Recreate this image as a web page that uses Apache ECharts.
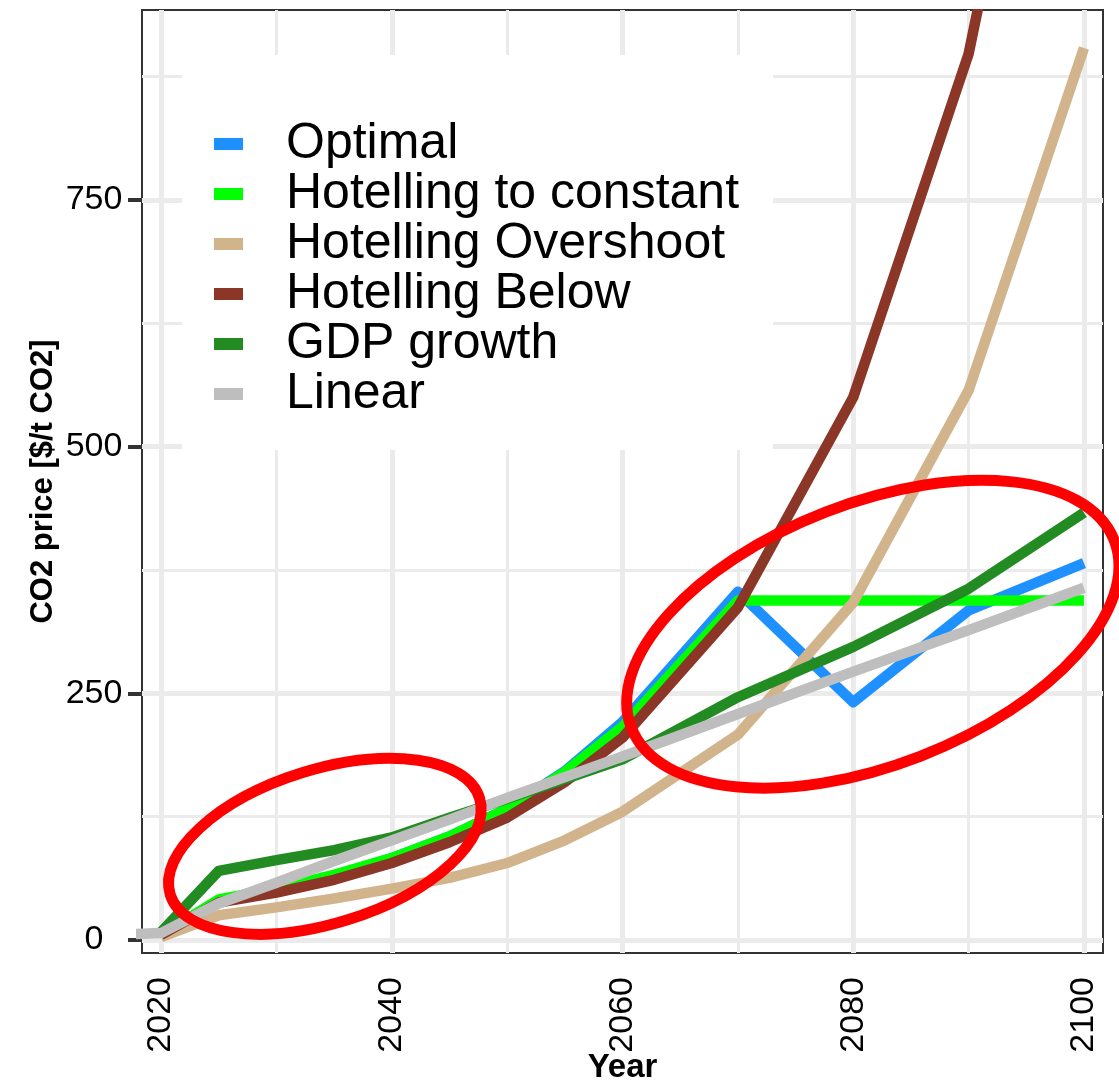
<!DOCTYPE html>
<html>
<head>
<meta charset="utf-8">
<script src="https://cdn.jsdelivr.net/npm/echarts@6/dist/echarts.min.js"></script>
<style>
  html, body { margin: 0; padding: 0; background: #ffffff; }
  #chart { width: 1119px; height: 1081px; }
</style>
</head>
<body>
<div id="chart"></div>
<script>
// Model years (10-year steps after 2060)
const years = [2020, 2025, 2030, 2035, 2040, 2045, 2050, 2055, 2060, 2070, 2080, 2090, 2100];
const linearYears = [2015, 2020, 2025, 2030, 2035, 2040, 2045, 2050, 2055, 2060, 2070, 2080, 2090, 2100];

// CO2 price paths in $/t CO2
const optimal        = [5, 40, 51, 65, 83, 105, 133, 171, 221, 353, 241, 334, 382];
const hotellingConst = [5, 41, 52, 66, 83, 105, 133, 170, 216, 344, 344, 344, 344];
const hotellingOver  = [3, 25, 33, 42, 52, 63, 78, 101, 130, 208, 342, 557, 904];
const hotellingBelow = [5, 38, 48, 61, 78, 99, 124, 160, 205, 337, 550, 898, 1465];
const gdpGrowth      = [8, 70, 81, 91, 104, 124, 143, 163, 183, 246, 297, 356, 433];
const linear         = [5, 7, 37, 58, 80, 101, 122, 144, 165, 186, 229, 272, 314, 357];

const seriesNames  = ['Optimal', 'Hotelling to constant', 'Hotelling Overshoot', 'Hotelling Below', 'GDP growth', 'Linear'];
const seriesColors = ['#1E90FF', '#00FF00', '#D2B48C', '#8B3626', '#228B22', '#BEBEBE'];
const seriesX      = [years, years, years, years, years, linearYears];
const seriesY      = [optimal, hotellingConst, hotellingOver, hotellingBelow, gdpGrowth, linear];

// Axis ticks and panel extents
const xTicks      = [2020, 2040, 2060, 2080, 2100];
const xMinorTicks = [2030, 2050, 2070, 2090];
const yTicks      = [0, 250, 500, 750];
const yMinorTicks = [125, 375, 625, 875];
const xRange = [2018.35, 2101.65];
const yRange = [-13.2, 942.5];

const FONT = '"Liberation Sans", Arial, Helvetica, sans-serif';
const GRID_COLOR = '#EBEBEB';

const gridLines = []
  .concat(xTicks.map(v => ({ xAxis: v, lineStyle: { width: 5 } })))
  .concat(xMinorTicks.map(v => ({ xAxis: v, lineStyle: { width: 3 } })))
  .concat(yTicks.map(v => ({ yAxis: v, lineStyle: { width: 5 } })))
  .concat(yMinorTicks.map(v => ({ yAxis: v, lineStyle: { width: 3 } })));

const lineSeries = seriesNames.map((name, i) => ({
  name: name,
  type: 'line',
  data: seriesX[i].map((x, k) => [x, seriesY[i][k]]),
  showSymbol: false,
  symbol: 'none',
  clip: true,
  z: 3 + i,
  color: seriesColors[i],
  lineStyle: { color: seriesColors[i], width: 10.5, join: 'round', cap: 'butt' },
  emphasis: { disabled: true }
}));

const plainNumber = v => String(v);

const option = {
  animation: false,
  backgroundColor: '#ffffff',
  grid: {
    left: 142, top: 10, right: 16, bottom: 128,
    show: true, borderColor: '#333333', borderWidth: 2,
    backgroundColor: 'transparent',
    outerBoundsMode: 'none'
  },
  legend: {
    orient: 'vertical',
    left: 182, top: 55,
    data: seriesNames,
    icon: 'rect',
    itemWidth: 29, itemHeight: 12, itemGap: 0,
    itemStyle: { borderWidth: 0 },
    padding: [64, 34, 31, 32],
    backgroundColor: '#ffffff',
    selectedMode: false,
    z: 10,
    textStyle: { fontSize: 50, fontFamily: FONT, color: '#000000', lineHeight: 47, padding: [0, 0, 0, 38] }
  },
  xAxis: {
    type: 'value',
    min: xRange[0], max: xRange[1],
    axisLine: { show: false },
    splitLine: { show: false },
    axisTick: { show: true, customValues: xTicks, length: 14, lineStyle: { color: '#333333', width: 4 } },
    axisLabel: { customValues: xTicks, formatter: plainNumber, rotate: 90, margin: 24, fontSize: 34, fontFamily: FONT, color: '#000000' },
    name: 'Year',
    nameLocation: 'middle',
    nameGap: 98,
    nameMoveOverlap: false,
    nameTextStyle: { fontSize: 33, fontWeight: 'bold', fontFamily: FONT, color: '#000000' }
  },
  yAxis: {
    type: 'value',
    min: yRange[0], max: yRange[1],
    axisLine: { show: false },
    splitLine: { show: false },
    axisTick: { show: true, customValues: yTicks, length: 14, lineStyle: { color: '#333333', width: 4 } },
    axisLabel: { customValues: yTicks, formatter: plainNumber, align: 'center', margin: 48, fontSize: 34, fontFamily: FONT, color: '#000000' },
    name: 'CO2 price [$/t CO2]',
    nameLocation: 'middle',
    nameRotate: 90,
    nameGap: 83,
    nameMoveOverlap: false,
    nameTextStyle: { fontSize: 31, fontWeight: 'bold', fontFamily: FONT, color: '#000000' }
  },
  series: [{
    name: '__grid',
    type: 'line',
    data: [],
    z: 1,
    silent: true,
    markLine: {
      z: 1,
      silent: true,
      symbol: 'none',
      label: { show: false },
      emphasis: { disabled: true },
      lineStyle: { color: GRID_COLOR, type: 'solid' },
      data: gridLines
    }
  }].concat(lineSeries)
};

const chart = echarts.init(document.getElementById('chart'), null, { renderer: 'canvas' });
chart.setOption(option);

// Red hand-drawn highlight ellipses, anchored at (year, price) positions
const highlights = [
  { at: [2034.2, 94.9], rx: 162, ry: 77, tilt: 17.3 },
  { at: [2081.7, 309.9], rx: 259, ry: 131, tilt: 21.2 }
];
const graphics = highlights.map(h => {
  const p = chart.convertToPixel({ gridIndex: 0 }, h.at);
  return {
    type: 'ellipse',
    x: p[0], y: p[1],
    rotation: h.tilt * Math.PI / 180,
    shape: { cx: 0, cy: 0, rx: h.rx, ry: h.ry },
    style: { fill: 'none', stroke: '#FF0000', lineWidth: 11 },
    z: 100,
    silent: true
  };
});
// Keep curves that leave the top of the panel from spilling over the frame
graphics.push({
  type: 'rect',
  shape: { x: 0, y: 0, width: 1119, height: 9 },
  style: { fill: '#ffffff' },
  z: 90,
  silent: true
});
chart.setOption({ graphic: graphics });
</script>
</body>
</html>
